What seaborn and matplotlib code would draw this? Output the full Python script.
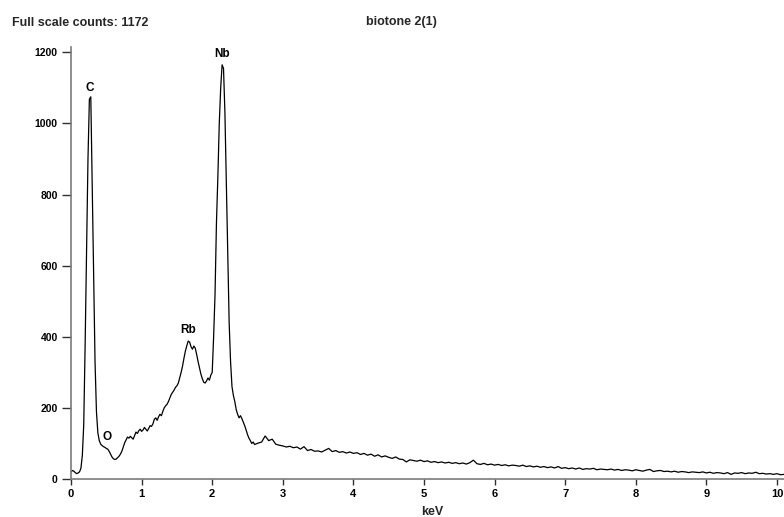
import numpy as np
import pandas as pd
import matplotlib
matplotlib.use("Agg")
import matplotlib.pyplot as plt
import seaborn as sns

# ---- data ----
# low-energy region: channels from 0.00 keV every 0.02 keV
low_start, low_step = 0.00, 0.02
low_counts = [
    20, 24, 22, 18, 15, 17, 20, 30, 66, 153,           # 0.00-0.18
    380, 640, 900, 1068, 1075, 820, 560, 330, 190, 130,  # 0.20-0.38
    108, 98, 94, 91, 89, 86, 84, 78, 70, 62,           # 0.40-0.58
    57, 55, 56, 60, 64, 70, 78, 90, 102, 110,          # 0.60-0.78
    118, 115, 120, 116, 112, 122, 132, 128, 136, 140,  # 0.80-0.98
    134, 138, 145, 140, 135, 142, 150, 148, 155, 168,  # 1.00-1.18
    172, 165, 175, 182, 178, 190, 200, 206, 210, 218,  # 1.20-1.38
    228, 238, 244, 250, 258, 262, 270, 285, 300, 318,  # 1.40-1.58
    340, 360, 375, 388, 385, 372, 365, 374, 368, 350,  # 1.60-1.78
    330, 312, 295, 282, 272, 270, 276, 284, 278, 292,  # 1.80-1.98
    300, 400, 520, 720, 850, 1000, 1100, 1165, 1155, 1030,  # 2.00-2.18
    830, 620, 440, 330, 260, 235, 218, 195, 182, 172,  # 2.20-2.38
    178, 170, 160, 150, 138, 125, 115, 108, 100, 104,  # 2.40-2.58
    97,                                                # 2.60
]
# background tail: channels from 2.65 keV every 0.05 keV
tail_start, tail_step = 2.65, 0.05
tail_counts = [
    101, 104, 121, 108, 112, 98, 95, 93, 90, 92,
    88, 90, 84, 91, 80, 83, 78, 79, 76, 81,
    86, 77, 80, 75, 77, 73, 76, 72, 74, 69,
    72, 67, 70, 64, 68, 62, 65, 61, 58, 62,
    56, 55, 48, 54, 52, 50, 53, 49, 51, 47,
    49, 46, 48, 45, 47, 44, 46, 43, 45, 42,
    46, 53, 43, 41, 44, 40, 42, 39, 41, 38,
    40, 37, 39, 38, 36, 39, 35, 37, 34, 36,
    33, 35, 32, 34, 31, 35, 30, 32, 29, 31,
    28, 31, 27, 29, 28, 30, 26, 28, 27, 26,
    28, 25, 27, 24, 26, 25, 23, 26, 24, 22,
    25, 27, 21, 23, 24, 21, 22, 20, 22, 19,
    21, 20, 18, 20, 19, 18, 20, 17, 19, 16,
    18, 17, 15, 18, 13, 17, 16, 18, 15, 17,
    16, 19, 15, 16, 14, 15, 13, 15, 12, 13,
]

peak_labels = ["C", "O", "Rb", "Nb"]
peak_kev = [0.27, 0.51, 1.66, 2.14]
peak_label_counts = [1099, 118, 419, 1195]

x_ticks = [0, 1, 2, 3, 4, 5, 6, 7, 8, 9, 10]
y_ticks = [0, 200, 400, 600, 800, 1000, 1200]

title_left = "Full scale counts: 1172"
title_center = "biotone 2(1)"
x_label = "keV"

# ---- build table ----
low_kev = np.round(low_start + low_step * np.arange(len(low_counts)), 3)
tail_kev = np.round(tail_start + tail_step * np.arange(len(tail_counts)), 3)
df = pd.DataFrame({
    "keV": np.concatenate([low_kev, tail_kev]),
    "counts": low_counts + tail_counts,
})

# ---- plot ----
sns.set_style("white")
plt.rcParams["font.family"] = ["Liberation Sans", "DejaVu Sans"]
plt.rcParams["font.weight"] = "bold"

fig = plt.figure(figsize=(7.84, 5.17), dpi=100)
ax = fig.add_axes([0.0906, 0.0735, 0.9094, 0.8362])

sns.lineplot(data=df, x="keV", y="counts", ax=ax, color="black",
             linewidth=0.9, estimator=None, sort=True)

ax.set_xlim(0, 10.1)
ax.set_ylim(0, 1216)
ax.set_xticks(x_ticks)
ax.set_yticks(y_ticks)
ax.set_xticklabels([str(t) for t in x_ticks], fontsize=8, fontweight="bold")
ax.set_yticklabels([str(t) for t in y_ticks], fontsize=7.5, fontweight="bold")

spine_col = "#7a7a7a"
for s in ["top", "right"]:
    ax.spines[s].set_visible(False)
for s in ["left", "bottom"]:
    ax.spines[s].set_color(spine_col)
    ax.spines[s].set_linewidth(1.2)
ax.tick_params(axis="both", direction="out", width=1.0,
               color="#303030", labelcolor="black")
ax.tick_params(axis="y", left=True, length=6.5, pad=3)
ax.tick_params(axis="x", bottom=True, length=4.5, pad=3)
ax.grid(False)

ax.set_xlabel(x_label, fontsize=9, fontweight="bold")
ax.xaxis.set_label_coords(0.506, -0.0763)
ax.xaxis.label.set_verticalalignment("center")
ax.set_ylabel("")

for lab, xk, yc in zip(peak_labels, peak_kev, peak_label_counts):
    ax.text(xk, yc, lab, ha="center", va="center", fontsize=8.5,
            fontweight="bold", color="black")

fig.text(12 / 784, 1 - 22.5 / 517, title_left, ha="left", va="center",
         fontsize=9, fontweight="bold")
fig.text(401 / 784, 1 - 22.5 / 517, title_center, ha="center", va="center",
         fontsize=9, fontweight="bold")

fig.savefig("out.png", dpi=100)
